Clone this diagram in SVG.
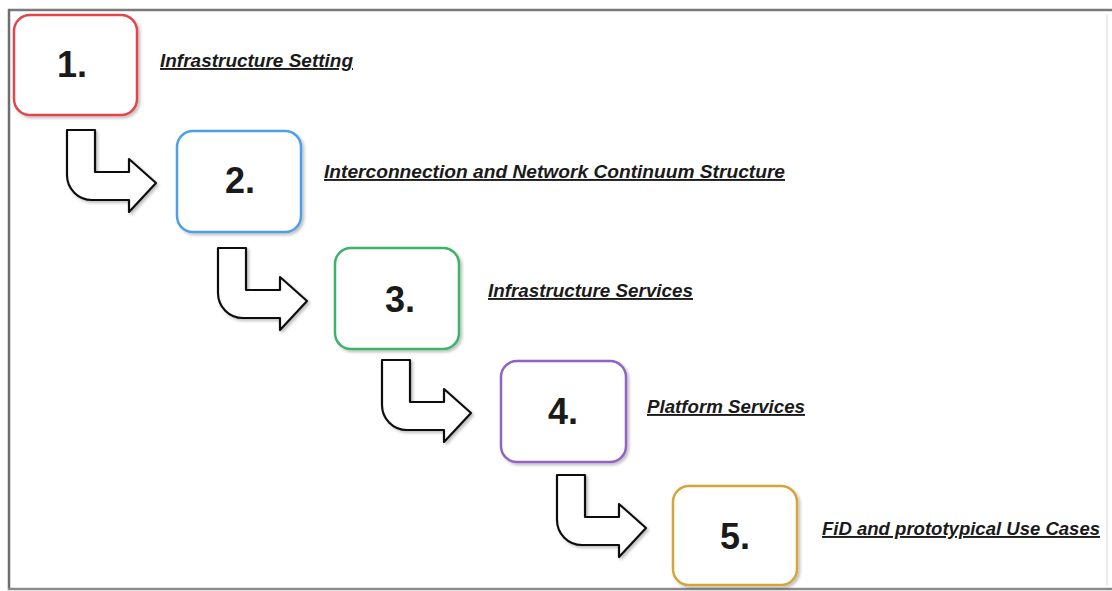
<svg xmlns="http://www.w3.org/2000/svg" width="1112" height="591" viewBox="0 0 1112 591">
<defs>
<filter id="sh" x="-10%" y="-10%" width="130%" height="130%">
<feDropShadow dx="2" dy="2" stdDeviation="1.5" flood-color="#000" flood-opacity="0.25"/>
</filter>
<path id="arr" d="M0,0 H28 V42 H62 V29 L89,53 L62,82 V70 H25 A25,25 0 0 1 0,45 Z"/>
</defs>
<style>
.box{fill:#fff;stroke-width:2.5;filter:url(#sh)}
.num{font-family:"Liberation Sans",Arial,sans-serif;font-weight:bold;font-size:36px;fill:#1a1a1a;text-anchor:middle}
.lbl{font-family:"Liberation Sans",Arial,sans-serif;font-weight:bold;font-style:italic;font-size:19px;fill:#1a1a1a;text-decoration:underline}
.arrow{fill:#fff;stroke:#111;stroke-width:2.2;stroke-linejoin:round;filter:url(#sh)}
</style>
<rect width="1112" height="591" fill="#fff"/>
<g id="frame">
<line x1="8" y1="10" x2="1112" y2="10" stroke="#7a7a7a" stroke-width="2.5"/>
<line x1="9" y1="9" x2="9" y2="590" stroke="#6e6e6e" stroke-width="2.5"/>
<line x1="8" y1="589" x2="1112" y2="589" stroke="#8a8a8a" stroke-width="2.5"/>
<line x1="1107" y1="14" x2="1107" y2="586" stroke="#e4e4e4" stroke-width="1.5"/>
</g>
<g id="connectors">
<use href="#arr" x="67" y="130" class="arrow"/>
<use href="#arr" x="218" y="248" class="arrow"/>
<use href="#arr" x="382" y="360" class="arrow"/>
<use href="#arr" x="557" y="475" class="arrow"/>
</g>
<g id="node1">
<rect class="box" x="14" y="15" width="123" height="100" rx="16" stroke="#e0474c"/>
<text class="num" x="72" y="77">1.</text>
<text class="lbl" x="160" y="67" textLength="193" lengthAdjust="spacingAndGlyphs">Infrastructure Setting</text>
</g>
<g id="node2">
<rect class="box" x="177" y="131" width="124" height="101" rx="16" stroke="#4f9fe8"/>
<text class="num" x="240" y="193">2.</text>
<text class="lbl" x="324" y="178" textLength="461" lengthAdjust="spacingAndGlyphs">Interconnection and Network Continuum Structure</text>
</g>
<g id="node3">
<rect class="box" x="335" y="248" width="124" height="101" rx="16" stroke="#3db36a"/>
<text class="num" x="400" y="312">3.</text>
<text class="lbl" x="488" y="297" textLength="205" lengthAdjust="spacingAndGlyphs">Infrastructure Services</text>
</g>
<g id="node4">
<rect class="box" x="501" y="361" width="125" height="101" rx="16" stroke="#9063c4"/>
<text class="num" x="563" y="424">4.</text>
<text class="lbl" x="647" y="413" textLength="158" lengthAdjust="spacingAndGlyphs">Platform Services</text>
</g>
<g id="node5">
<rect class="box" x="673" y="486" width="124" height="99" rx="16" stroke="#d4a53c"/>
<text class="num" x="735" y="549">5.</text>
<text class="lbl" x="822" y="535" textLength="278" lengthAdjust="spacingAndGlyphs">FiD and prototypical Use Cases</text>
</g>
</svg>
